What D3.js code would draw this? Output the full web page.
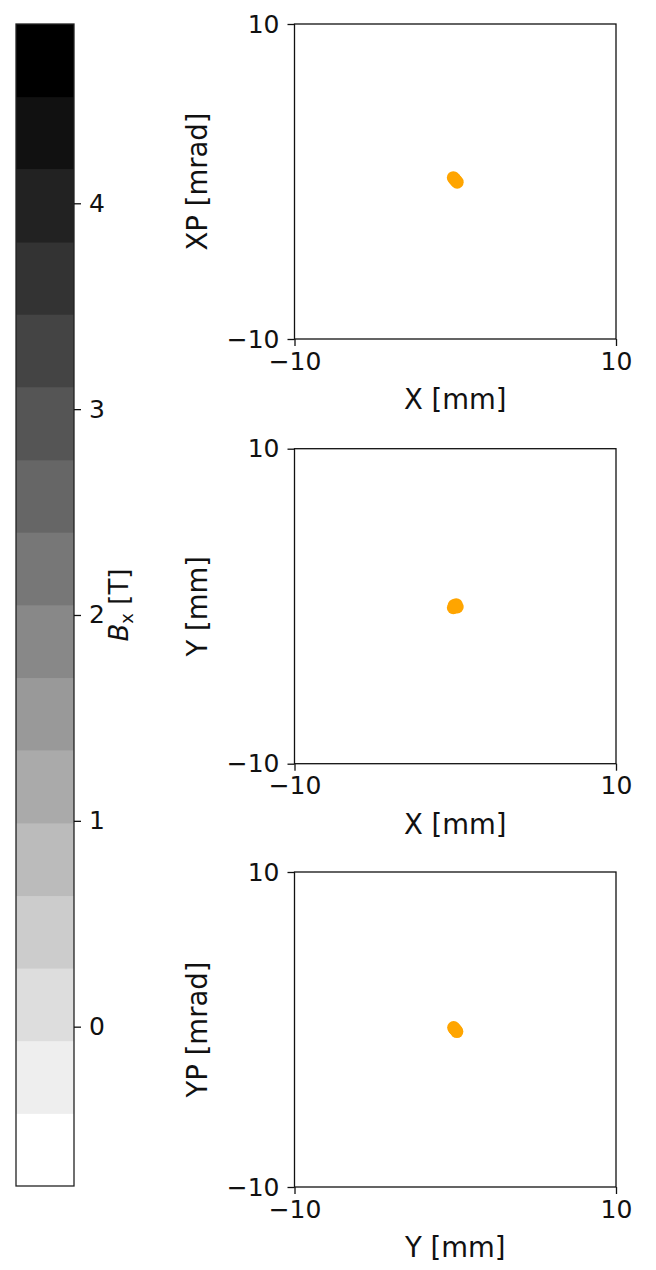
<!DOCTYPE html>
<html lang="en">
<head>
    <meta charset="UTF-8">
    <title>Beam phase space</title>
    <style>
        body { margin: 0; background: #fff; }
        svg text { font-family: "DejaVu Sans", sans-serif; fill: #111; }
        .domain, .tick line { stroke: #111; }
    </style>
</head>
<body>
    <svg id="chart" width="656" height="1270"></svg>
    <script src="https://d3js.org/d3.v7.min.js"></script>
    <script>
        // colorbar levels of Bx [T], bottom to top (16 bands)
        var levels = [-0.774, -0.421, -0.068, 0.284, 0.637, 0.990, 1.343, 1.696, 2.048,
                      2.401, 2.754, 3.107, 3.460, 3.812, 4.165, 4.518, 4.871];
        var cbTicks = [0, 1, 2, 3, 4];

        // particles
        var px  = [-0.12, -0.06, 0.0, 0.06, 0.12];   // X [mm]
        var pxp = [0.24, 0.17, 0.1, 0.03, -0.04];    // XP [mrad]
        var py  = [-0.1, 0.05, 0.0, 0.1, -0.05];     // Y [mm]
        var pyp = [0.12, -0.06, 0.0, -0.13, 0.06];   // YP [mrad]

        var axisTicks = [-10, 10];

        var svg = d3.select("#chart");

        // ---- colorbar ----
        var cb = { left: 16, width: 58, top: 24, bottom: 1186 };
        var cy = d3.scaleLinear().domain([levels[0], levels[levels.length - 1]]).range([cb.bottom, cb.top]);
        var gray = d3.scaleLinear().domain([0, levels.length - 2]).range(["#ffffff", "#000000"]);

        var bands = d3.range(levels.length - 1);
        svg.append("g").selectAll("rect")
            .data(bands)
            .enter().append("rect")
            .attr("x", cb.left)
            .attr("width", cb.width)
            .attr("y", function(i) { return cy(levels[i + 1]); })
            .attr("height", function(i) { return cy(levels[i]) - cy(levels[i + 1]) + 0.5; })
            .attr("fill", function(i) { return gray(i); });

        svg.append("rect")
            .attr("x", cb.left).attr("y", cb.top)
            .attr("width", cb.width).attr("height", cb.bottom - cb.top)
            .attr("fill", "none").attr("stroke", "#222").attr("stroke-width", 1.3);

        var cbAxis = svg.append("g")
            .attr("transform", "translate(" + (cb.left + cb.width) + ",0)")
            .call(d3.axisRight(cy).tickValues(cbTicks).tickSize(7).tickPadding(8).tickFormat(d3.format("d")));
        cbAxis.select(".domain").remove();
        cbAxis.selectAll(".tick line").attr("stroke-width", 1.3);
        cbAxis.selectAll("text").style("font-size", "25px").attr("fill", "#111");

        var cbLabel = svg.append("text")
            .attr("transform", "translate(128," + ((cb.top + cb.bottom) / 2) + ") rotate(-90)")
            .attr("text-anchor", "middle")
            .style("font-size", "26px");
        cbLabel.append("tspan").style("font-style", "italic").text("B");
        cbLabel.append("tspan").attr("dy", 5).style("font-size", "18px").text("x");
        cbLabel.append("tspan").attr("dy", -5).text(" [T]");

        // ---- phase space panels ----
        var panels = [
            { top: 24,    xs: px, ys: pxp, xlab: "X [mm]", ylab: "XP [mrad]" },
            { top: 448.7, xs: px, ys: py,  xlab: "X [mm]", ylab: "Y [mm]" },
            { top: 872,   xs: py, ys: pyp, xlab: "Y [mm]", ylab: "YP [mrad]" }
        ];
        var pw = 321.5, ph = 315, pl = 294.5;

        panels.forEach(function(p) {
            var g = svg.append("g").attr("transform", "translate(" + pl + "," + p.top + ")");
            var x = d3.scaleLinear().domain([-10, 10]).range([0, pw]);
            var y = d3.scaleLinear().domain([-10, 10]).range([ph, 0]);

            g.append("rect").attr("width", pw).attr("height", ph)
                .attr("fill", "none").attr("stroke", "#111").attr("stroke-width", 1.3);

            var xa = g.append("g").attr("transform", "translate(0," + ph + ")")
                .call(d3.axisBottom(x).tickValues(axisTicks).tickSize(7).tickPadding(6).tickFormat(d3.format("d")));
            var ya = g.append("g")
                .call(d3.axisLeft(y).tickValues(axisTicks).tickSize(7).tickPadding(8).tickFormat(d3.format("d")));
            [xa, ya].forEach(function(a) {
                a.select(".domain").remove();
                a.selectAll(".tick line").attr("stroke-width", 1.3);
                a.selectAll("text").style("font-size", "25px").attr("fill", "#111")
                    .text(function(d) { return d < 0 ? "\u2212" + Math.abs(d) : d; });
            });

            var pts = p.xs.map(function(v, i) { return [v, p.ys[i]]; });
            g.selectAll("circle")
                .data(pts)
                .enter().append("circle")
                .attr("cx", function(d) { return x(d[0]); })
                .attr("cy", function(d) { return y(d[1]); })
                .attr("r", 6.5)
                .attr("fill", "#ffa500");

            g.append("text")
                .attr("x", pw / 2).attr("y", ph + 70)
                .attr("text-anchor", "middle")
                .style("font-size", "27.5px")
                .text(p.xlab);

            g.append("text")
                .attr("transform", "translate(" + (-88) + "," + (ph / 2) + ") rotate(-90)")
                .attr("text-anchor", "middle")
                .style("font-size", "27.5px")
                .text(p.ylab);
        });
    </script>
</body>
</html>
